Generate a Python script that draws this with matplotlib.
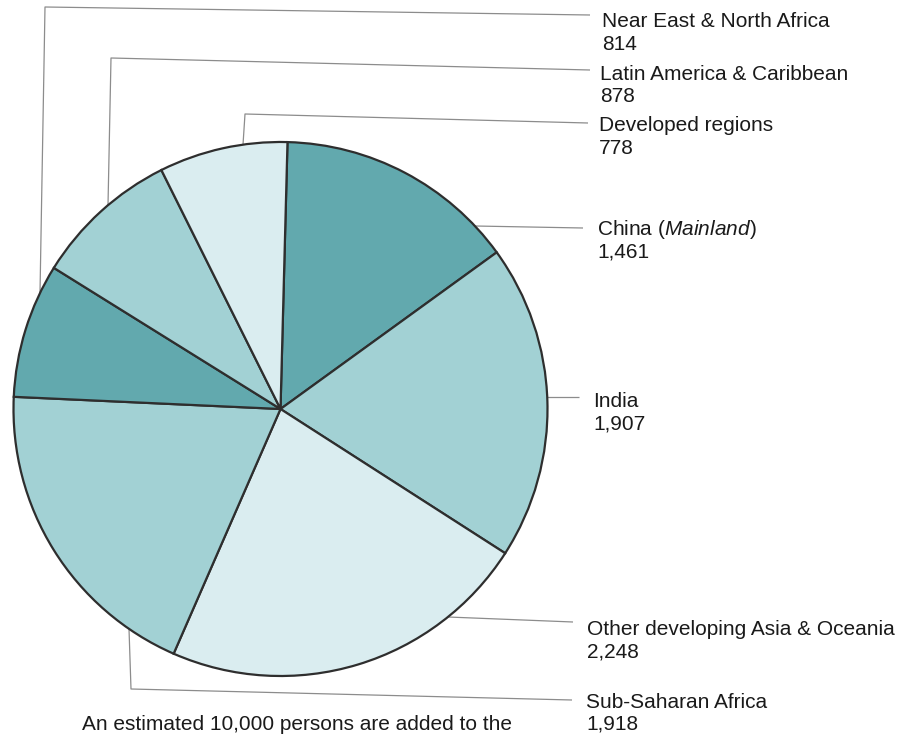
import numpy as np
import matplotlib
matplotlib.use("Agg")
import matplotlib.pyplot as plt

plt.rcParams['font.family'] = ['Liberation Sans', 'DejaVu Sans']
plt.rcParams['mathtext.fontset'] = 'custom'
plt.rcParams['mathtext.rm'] = 'Liberation Sans'
plt.rcParams['mathtext.it'] = 'Liberation Sans:italic'

# ---- data (clockwise from the top) ----
regions = ["China ($\\mathit{Mainland}$)", "India", "Other developing Asia & Oceania",
           "Sub-Saharan Africa", "Near East & North Africa",
           "Latin America & Caribbean", "Developed regions"]
values = [1461, 1907, 2248, 1918, 814, 878, 778]
value_labels = ["1,461", "1,907", "2,248", "1,918", "814", "878", "778"]
footer = "An estimated 10,000 persons are added to the"

# ---- style / layout ----
DARK, MED, LIGHT = '#62a9ae', '#a2d1d4', '#daedf0'
colors = [DARK, MED, LIGHT, MED, DARK, MED, LIGHT]
W, H = 906, 736
CX, CY, R = 280.5, 409, 267
FS = 15

def Y(y):
    return H - y

fig = plt.figure(figsize=(W / 100, H / 100), dpi=100)
ax = fig.add_axes([0, 0, 1, 1])
ax.pie(values, colors=colors, startangle=88.5, counterclock=False,
       center=(CX, Y(CY)), radius=R,
       wedgeprops=dict(edgecolor='#2e2e2e', linewidth=1.6))
ax.set_xlim(0, W)
ax.set_ylim(0, H)
ax.set_aspect('equal')
ax.axis('off')

def edge_x(x, upper):
    dy = np.sqrt(R**2 - (x - CX)**2)
    return (x, CY - dy if upper else CY + dy)

def edge_y(y, right):
    dx = np.sqrt(R**2 - (y - CY)**2)
    return (CX + dx if right else CX - dx, y)

# leader paths (pixel coords from top), one per region in data order
paths = [
    [edge_y(226, True), (583, 228)],
    [edge_y(397, True), (579, 397)],
    [edge_y(617, True), (573, 622)],
    [edge_x(129, False), (131, 689), (572, 700)],
    [edge_x(40, True), (45, 7), (590, 15)],
    [edge_x(108, True), (111, 58), (590, 70)],
    [edge_x(243, True), (245, 114), (588, 123)],
]
# label anchor: x, baseline of first line, line gap
anchors = [(597, 235, 23), (593, 407, 23), (587, 635, 22), (586, 708, 21),
           (602, 27, 23), (600, 80, 22), (599, 131, 23)]

for path, (tx, ty, gap), name, val in zip(paths, anchors, regions, value_labels):
    xs = [p[0] for p in path]
    ys = [Y(p[1]) for p in path]
    ax.plot(xs, ys, color='#8c8c8c', lw=0.9, solid_capstyle='butt', zorder=0)
    ax.text(tx, Y(ty), name, fontsize=FS, color='#1a1a1a', va='baseline', ha='left')
    ax.text(tx, Y(ty + gap), val, fontsize=FS, color='#1a1a1a', va='baseline', ha='left')

ax.text(82, Y(730), footer, fontsize=FS, color='#1a1a1a', va='baseline', ha='left')

fig.savefig("out.png", dpi=100, facecolor='white')
